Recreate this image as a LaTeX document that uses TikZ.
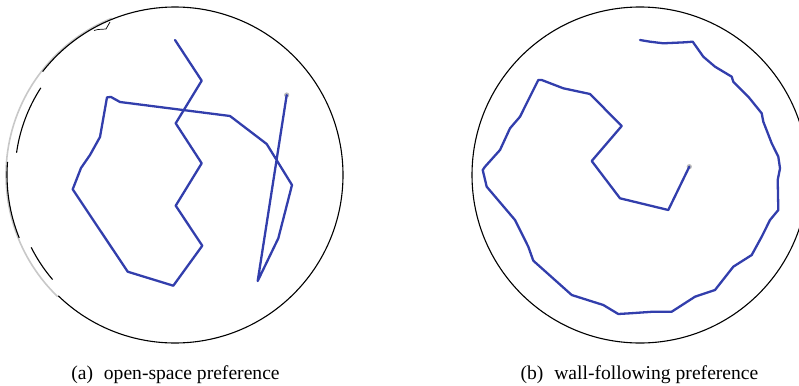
\documentclass[tikz,border=0pt]{standalone}
\usepackage{fontspec}
\setmainfont{Liberation Serif}
\newfontfamily\capserif{Liberation Serif}
\definecolor{trackblue}{RGB}{50,62,172}
\definecolor{arenagrey}{RGB}{200,200,200}
\begin{document}
\begin{tikzpicture}[x=1pt,y=-1pt,
  arena/.style={draw=black,line width=1.1pt},
  arenafaint/.style={draw=arenagrey,line width=1.6pt},
  track/.style={draw=trackblue,line width=2.3pt,line cap=round,line join=round},
  startmark/.style={fill=gray!55,draw=none},
  caption/.style={font=\capserif\fontsize{19.6pt}{22pt}\selectfont,anchor=base,inner sep=0pt}]
\useasboundingbox (0,0) rectangle (799,385);
\clip (0,0) rectangle (799,385);
% ---- panel (a) arena ----
\draw[arenafaint] (175,175) ++(-112:169) arc[start angle=-112,end angle=-226,radius=169];
\draw[arena] (175,175) ++(134:168) arc[start angle=134,end angle=-142,radius=168];
\draw[arena] (175,175) ++(-175.5:168) arc[start angle=-175.5,end angle=-202,radius=168];
\draw[arena] (175,175) ++(-147:160) arc[start angle=-147,end angle=-172,radius=160];
\draw[arena] (175,175) ++(-206.7:161) arc[start angle=-206.7,end angle=-220.5,radius=161];
\draw[arena,line width=0.7pt] (94,30.5) -- (98,29.5) -- (106,29) -- (110,22);
% ---- panel (a) track ----
\fill[startmark] (286.7,95) circle (2.6);
\draw[track] (175,40) -- (201.7,80.7) -- (175.7,123.3) -- (201.7,163.3) -- (175.7,205.7)
  -- (202.3,245.7) -- (173.3,285.7) -- (127.7,271.7) -- (72.7,189.3) -- (81,168)
  -- (90,155) -- (100,137) -- (107,97.3) -- (111,97) -- (120,102) -- (230,116)
  -- (266.7,144) -- (292,185) -- (278.3,238.3) -- (257.7,281) -- (286.7,95);
% ---- panel (b) arena ----
\draw[arena] (640,175) circle (168);
% ---- panel (b) track ----
\fill[startmark] (689.3,166.7) circle (2.6);
\draw[track] (640,40) -- (650,41.7) -- (663.3,43.3) -- (685,42.3) -- (692.7,41.7)
  -- (703.3,56.7) -- (715,66.7) -- (731.7,76.7) -- (733.3,81.7) -- (748.3,96.7)
  -- (761.7,113.3) -- (763.3,121.7) -- (771.7,143.3) -- (778.3,156.7) -- (780,168.3)
  -- (777.7,180) -- (778.3,210) -- (770,220) -- (761.7,236.7) -- (751.7,255)
  -- (733.3,266.7) -- (715,290) -- (695,296.7) -- (671.7,311.7) -- (653.3,311.7)
  -- (630,313.3) -- (618.3,314) -- (603.3,305) -- (571.7,295) -- (533.3,260.7)
  -- (528.3,246.7) -- (515,220) -- (486.7,186.7) -- (482.7,170) -- (485,166.7)
  -- (500,150) -- (510,128.3) -- (520,116.7) -- (528.3,100) -- (538.3,80)
  -- (541.7,80) -- (563.3,88.3) -- (590,94) -- (621.7,126) -- (591.7,161)
  -- (620,198.3) -- (668.3,210) -- (689.3,166.7);
% ---- captions ----
\node[caption] (capa) at (175.5,379) {(a)\hspace{0.55em}open-space preference};
\node[caption] (capb) at (639.5,379) {(b)\hspace{0.55em}wall-following preference};
\end{tikzpicture}
\end{document}
